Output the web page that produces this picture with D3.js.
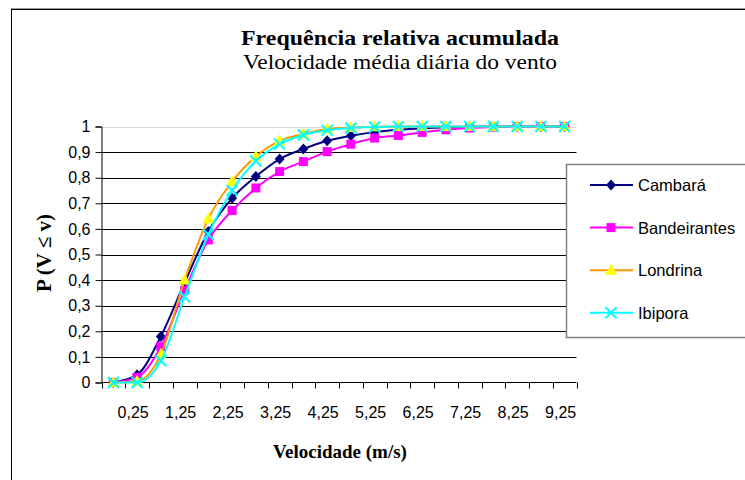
<!DOCTYPE html>
<html>
<head>
<meta charset="utf-8">
<script src="https://cdn.jsdelivr.net/npm/d3@7"></script>
<style>
  body { margin: 0; background: #fff; }
  svg { display: block; }
</style>
</head>
<body>
<svg id="chart" width="745" height="480"></svg>
<script>
'use strict';

// velocity classes (m/s); only every other one gets a label
const categories = ['0', '0,25', '0,75', '1,25', '1,75', '2,25', '2,75', '3,25', '3,75', '4,25',
  '4,75', '5,25', '5,75', '6,25', '6,75', '7,25', '7,75', '8,25', '8,75', '9,25'];
const labelledCategories = ['0,25', '1,25', '2,25', '3,25', '4,25', '5,25', '6,25', '7,25', '8,25', '9,25'];

const cambara = [0, 0.03, 0.18, 0.39, 0.59, 0.72, 0.805, 0.873, 0.912, 0.944,
  0.964, 0.978, 0.987, 0.993, 0.997, 0.999, 1, 1, 1, 1];
const bandeirantes = [0, 0.02, 0.14, 0.36, 0.557, 0.672, 0.76, 0.824, 0.863, 0.902,
  0.931, 0.955, 0.965, 0.977, 0.987, 0.994, 0.998, 1, 1, 1];
const londrina = [0, 0.005, 0.11, 0.40, 0.64, 0.785, 0.883, 0.944, 0.971, 0.99,
  0.996, 0.999, 1, 1, 1, 1, 1, 1, 1, 1];
const ibipora = [0, 0, 0.085, 0.335, 0.578, 0.75, 0.865, 0.931, 0.967, 0.985,
  0.994, 0.998, 1, 1, 1, 1, 1, 1, 1, 1];

const yTicks = [0, 0.1, 0.2, 0.3, 0.4, 0.5, 0.6, 0.7, 0.8, 0.9, 1];

const series = [
  {name: 'Cambará', values: cambara, line: '#000080', fill: '#000080', marker: 'diamond'},
  {name: 'Bandeirantes', values: bandeirantes, line: '#ff00ff', fill: '#ff00ff', marker: 'square'},
  {name: 'Londrina', values: londrina, line: '#ff9900', fill: '#ffff00', marker: 'triangle'},
  {name: 'Ibipora', values: ibipora, line: '#00ffff', fill: '#00ffff', marker: 'cross'}
];

const svg = d3.select('#chart');
const plot = {left: 101.5, right: 576.5, top: 126.5, bottom: 382.5};
const sans = 'Liberation Sans, Arial, sans-serif';
const serif = 'Liberation Serif, Times New Roman, serif';

// chart border
svg.append('line').attr('x1', 11).attr('x2', 745).attr('y1', 8.5).attr('y2', 8.5)
  .attr('stroke', '#999');
svg.append('rect').attr('x', 11.5).attr('y', 9.5).attr('width', 760).attr('height', 500)
  .attr('fill', 'none').attr('stroke', '#000');

const x = d3.scaleBand().domain(categories).range([plot.left, plot.right]);
const y = d3.scaleLinear().domain([0, 1]).range([plot.bottom, plot.top]);
const cx = (i) => x(categories[i]) + x.bandwidth() / 2;

// gridlines
svg.append('g').selectAll('line').data(yTicks.slice(1)).join('line')
  .attr('x1', plot.left).attr('x2', plot.right)
  .attr('y1', d => Math.round(y(d)) + 0.5).attr('y2', d => Math.round(y(d)) + 0.5)
  .attr('stroke', d => d === 1 ? '#d8d8d8' : '#000');

// y axis
const yAxis = svg.append('g')
  .attr('transform', `translate(${plot.left},0)`)
  .call(d3.axisLeft(y).tickValues(yTicks).tickSize(6).tickPadding(5)
    .tickFormat(d => String(d).replace('.', ',')));
yAxis.select('.domain').attr('stroke', '#000');
yAxis.selectAll('.tick line').attr('stroke', '#000');
yAxis.selectAll('text').attr('font-family', sans)
  .attr('font-size', 16).attr('fill', '#000');

// x axis: ticks on category boundaries, labels on every other category
const xAxis = svg.append('g').attr('transform', `translate(0,${plot.bottom})`);
xAxis.append('line').attr('x1', plot.left).attr('x2', plot.right).attr('stroke', '#000');
xAxis.selectAll('.tk').data(d3.range(categories.length + 1)).join('line')
  .attr('class', 'tk')
  .attr('x1', i => Math.round(plot.left + i * x.step()) + 0.5)
  .attr('x2', i => Math.round(plot.left + i * x.step()) + 0.5)
  .attr('y1', 0).attr('y2', 6).attr('stroke', '#000');
xAxis.selectAll('text').data(labelledCategories).join('text')
  .attr('x', d => x(d) + x.bandwidth() / 2 - 4)
  .attr('y', 35)
  .attr('text-anchor', 'middle')
  .attr('font-family', sans)
  .attr('font-size', 16)
  .text(d => d);

// series
const line = d3.line()
  .x((d, i) => cx(i))
  .y(d => y(d))
  .curve(d3.curveMonotoneX);

function drawMarker(g, type, color) {
  if (type === 'diamond') {
    g.append('path').attr('d', 'M0,-5.5L5,0L0,5.5L-5,0Z').attr('fill', color);
  } else if (type === 'square') {
    g.append('rect').attr('x', -4.5).attr('y', -4.5).attr('width', 9).attr('height', 9).attr('fill', color);
  } else if (type === 'triangle') {
    g.append('path').attr('d', 'M0,-6.5L6,4.5L-6,4.5Z').attr('fill', color);
  } else {
    g.append('path').attr('d', 'M-5.5,-5.5L5.5,5.5M5.5,-5.5L-5.5,5.5')
      .attr('stroke', color).attr('stroke-width', 2).attr('fill', 'none');
  }
}

series.forEach(s => {
  const g = svg.append('g');
  g.append('path').datum(s.values)
    .attr('d', line)
    .attr('fill', 'none')
    .attr('stroke', s.line)
    .attr('stroke-width', 2);
  s.values.forEach((v, i) => {
    const m = g.append('g').attr('transform', `translate(${cx(i)},${y(v)})`);
    drawMarker(m, s.marker, s.fill);
  });
});

// legend
const legend = svg.append('g');
legend.append('rect').attr('x', 566.5).attr('y', 164.5).attr('width', 200).attr('height', 173)
  .attr('fill', '#fff').attr('stroke', '#808080').attr('stroke-width', 1.5);
series.forEach((s, i) => {
  const ly = 185 + i * 42.6;
  legend.append('line').attr('x1', 590).attr('x2', 633).attr('y1', ly).attr('y2', ly)
    .attr('stroke', s.line).attr('stroke-width', 2);
  drawMarker(legend.append('g').attr('transform', `translate(611,${ly})`), s.marker, s.fill);
  legend.append('text').attr('x', 638).attr('y', ly + 6)
    .attr('font-family', sans)
    .attr('font-size', 16.5)
    .text(s.name);
});

// titles
svg.append('text').attr('x', 400).attr('y', 45).attr('text-anchor', 'middle')
  .attr('font-family', serif).attr('font-weight', 'bold').attr('font-size', 22)
  .attr('textLength', 318).attr('lengthAdjust', 'spacingAndGlyphs')
  .text('Frequência relativa acumulada');
svg.append('text').attr('x', 400).attr('y', 69).attr('text-anchor', 'middle')
  .attr('font-family', serif).attr('font-size', 21)
  .attr('textLength', 314).attr('lengthAdjust', 'spacingAndGlyphs')
  .text('Velocidade média diária do vento');
svg.append('text').attr('x', 340).attr('y', 458).attr('text-anchor', 'middle')
  .attr('font-family', serif).attr('font-weight', 'bold').attr('font-size', 19)
  .text('Velocidade (m/s)');
svg.append('text').attr('transform', 'translate(51,253) rotate(-90)').attr('text-anchor', 'middle')
  .attr('font-family', serif).attr('font-weight', 'bold').attr('font-size', 21)
  .text('P (V ≤ v)');
</script>
</body>
</html>
